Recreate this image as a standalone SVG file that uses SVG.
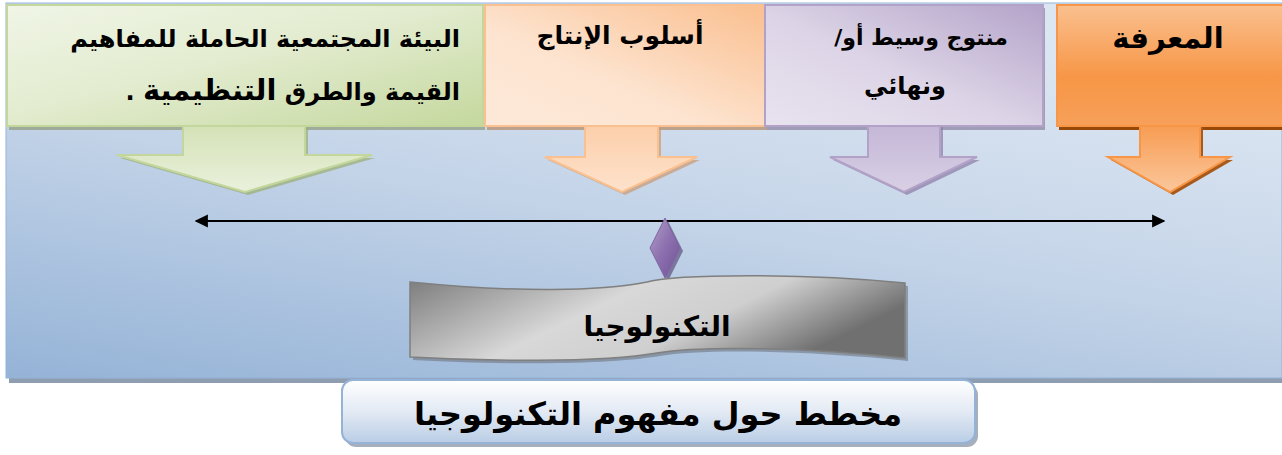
<svg xmlns="http://www.w3.org/2000/svg" width="1282" height="455" viewBox="0 0 1282 455">
<defs>
<linearGradient id="bg" x1="0" y1="1" x2="0.55" y2="0">
<stop offset="0" stop-color="#95b3d7"/>
<stop offset="0.55" stop-color="#c4d4e8"/>
<stop offset="1" stop-color="#dce6f2"/>
</linearGradient>
<linearGradient id="gGreen" x1="0" y1="0" x2="1" y2="1">
<stop offset="0" stop-color="#f0f5e6"/>
<stop offset="0.45" stop-color="#e3ecd0"/>
<stop offset="1" stop-color="#c5d89e"/>
</linearGradient>
<linearGradient id="gPeach" x1="1" y1="0" x2="0" y2="1">
<stop offset="0" stop-color="#fabf8f"/>
<stop offset="0.6" stop-color="#fde4d0"/>
<stop offset="1" stop-color="#fde9d9"/>
</linearGradient>
<linearGradient id="gPurple" x1="1" y1="0" x2="0" y2="1">
<stop offset="0" stop-color="#b4a3c9"/>
<stop offset="0.55" stop-color="#ddd5e7"/>
<stop offset="1" stop-color="#e8e3ef"/>
</linearGradient>
<linearGradient id="gOrange" x1="0" y1="0" x2="0" y2="1">
<stop offset="0" stop-color="#fac08f"/>
<stop offset="0.6" stop-color="#f79646"/>
<stop offset="1" stop-color="#f7a05a"/>
</linearGradient>
<linearGradient id="gGreenA" x1="0" y1="0" x2="0" y2="1">
<stop offset="0" stop-color="#d3e1b5"/>
<stop offset="1" stop-color="#eaf1dc"/>
</linearGradient>
<linearGradient id="gPeachA" x1="0" y1="0" x2="0" y2="1">
<stop offset="0" stop-color="#fccea8"/>
<stop offset="1" stop-color="#fde2cc"/>
</linearGradient>
<linearGradient id="gPurpleA" x1="0" y1="0" x2="0" y2="1">
<stop offset="0" stop-color="#c3b6d6"/>
<stop offset="1" stop-color="#d9d0e5"/>
</linearGradient>
<linearGradient id="gOrangeA" x1="0" y1="0" x2="0" y2="1">
<stop offset="0" stop-color="#f79a4f"/>
<stop offset="1" stop-color="#fbc79c"/>
</linearGradient>
<linearGradient id="gGray" x1="0" y1="0" x2="1" y2="0.35">
<stop offset="0" stop-color="#7a7a7a"/>
<stop offset="0.45" stop-color="#d8d8d8"/>
<stop offset="0.7" stop-color="#cfcfcf"/>
<stop offset="1" stop-color="#707070"/>
</linearGradient>
<linearGradient id="gDiamond" x1="0" y1="0" x2="1" y2="1">
<stop offset="0" stop-color="#b3a2c7"/>
<stop offset="0.5" stop-color="#8b6fae"/>
<stop offset="1" stop-color="#6d5293"/>
</linearGradient>
<linearGradient id="gTitle" x1="0" y1="0" x2="0" y2="1">
<stop offset="0" stop-color="#ffffff"/>
<stop offset="0.5" stop-color="#e3eaf4"/>
<stop offset="1" stop-color="#b9cde5"/>
</linearGradient>
<marker id="ah" viewBox="0 0 10 10" refX="9" refY="5" markerWidth="6" markerHeight="6" orient="auto-start-reverse" markerUnits="strokeWidth">
<path d="M0,0 L10,5 L0,10 Z" fill="#000"/>
</marker>
</defs>
<style>
text{font-family:"DejaVu Sans","Noto Sans",sans-serif;font-weight:bold;fill:#000;direction:rtl;}
.t24{font-size:24px;}
.t25{font-size:25px;}
</style>

<!-- background panel -->
<g id="panel">
<rect x="9" y="8" width="1273" height="375" fill="#8f9db0"/>
<rect x="6" y="3" width="1276" height="375" fill="url(#bg)" stroke="#95b3d7" stroke-width="1"/>
</g>

<!-- green node -->
<g id="node-environment">
<rect x="9" y="8" width="476" height="122" fill="#8f9a7a" opacity="0.7"/>
<path d="M186,125 L308,125 L308,158 L375,158 L248,195 L120,158 L186,158 Z" fill="#9aae73" opacity="0.7"/>
<path d="M183,122 L305,122 L305,155 L372,155 L245,192 L117,155 L183,155 Z" fill="url(#gGreenA)" stroke="#c3d69b" stroke-width="2"/>
<rect x="7" y="5" width="476" height="121" fill="url(#gGreen)" stroke="#c3d69b" stroke-width="2"/>
<text x="460" y="47" class="t24" text-anchor="start">البيئة المجتمعية الحاملة للمفاهيم</text>
<text x="460" y="100" class="t24" text-anchor="start">القيمة والطرق <tspan font-size="29px">التنظيمية</tspan> .</text>
</g>

<!-- peach node -->
<g id="node-production">
<rect x="487" y="8" width="280" height="122" fill="#b38a68" opacity="0.7"/>
<path d="M588,125 L661,125 L661,160 L700,160 L625,195 L548,160 L588,160 Z" fill="#c99a73" opacity="0.7"/>
<path d="M585,122 L658,122 L658,157 L697,157 L622,192 L545,157 L585,157 Z" fill="url(#gPeachA)" stroke="#fac090" stroke-width="2"/>
<rect x="485" y="5" width="280" height="121" fill="url(#gPeach)" stroke="#fac090" stroke-width="2"/>
<text x="620" y="44" class="t25" text-anchor="middle">أسلوب الإنتاج</text>
</g>

<!-- purple node -->
<g id="node-product">
<rect x="767" y="8" width="278" height="122" fill="#8a80a0" opacity="0.7"/>
<path d="M871,125 L943,125 L943,160 L980,160 L907,195 L833,160 L871,160 Z" fill="#8a7aa5" opacity="0.7"/>
<path d="M868,122 L940,122 L940,157 L977,157 L904,192 L830,157 L868,157 Z" fill="url(#gPurpleA)" stroke="#b3a2c7" stroke-width="2"/>
<rect x="765" y="5" width="278" height="121" fill="url(#gPurple)" stroke="#b3a2c7" stroke-width="2"/>
<text x="921" y="45" font-size="22px" text-anchor="middle">منتوج وسيط أو/</text>
<text x="905" y="94" class="t24" text-anchor="middle">ونهائي</text>
</g>

<!-- orange node -->
<g id="node-knowledge">
<rect x="1059" y="8" width="223" height="122" fill="#984807"/>
<path d="M1143,125 L1203,125 L1203,160 L1233,160 L1173,195 L1111,160 L1143,160 Z" fill="#a85a1c"/>
<path d="M1140,122 L1200,122 L1200,157 L1230,157 L1170,192 L1108,157 L1140,157 Z" fill="url(#gOrangeA)" stroke="#f79646" stroke-width="2"/>
<rect x="1057" y="5" width="226" height="121" fill="url(#gOrange)" stroke="#f79646" stroke-width="2"/>
<text x="1168" y="48" font-size="29px" text-anchor="middle">المعرفة</text>
</g>

<!-- connectors -->
<g id="connectors">
<line x1="196" y1="221" x2="1164" y2="221" stroke="#000" stroke-width="2.2" marker-start="url(#ah)" marker-end="url(#ah)"/>
<path d="M668,221 L683,251 L668,281 L653,251 Z" fill="#4f3a6b" opacity="0.6"/>
<path d="M665,218 L680,248 L665,278 L650,248 Z" fill="url(#gDiamond)" stroke="#8064a2" stroke-width="1"/>
</g>

<!-- technology node -->
<g id="node-technology">
<path d="M413,285 C520,296 600,294 650,285 C680,277 800,276 908,286 L908,361 C800,350 700,349 660,356 C600,366 480,364 413,360 Z" fill="#6f7780" opacity="0.6"/>
<path d="M410,282 C520,293 600,291 647,282 C677,274 800,273 905,283 L905,358 C800,347 700,346 657,353 C600,363 480,361 410,357 Z" fill="url(#gGray)" stroke="#7f7f7f" stroke-width="1.5"/>
<text x="657" y="336" font-size="28px" text-anchor="middle">التكنولوجيا</text>
</g>

<!-- title node -->
<g id="node-title">
<rect x="345" y="384" width="633" height="63" rx="11" fill="#8894a6" opacity="0.75"/>
<rect x="342" y="380" width="633" height="63" rx="11" fill="url(#gTitle)" stroke="#95b3d7" stroke-width="2"/>
<text x="658" y="425" font-size="32px" text-anchor="middle">مخطط حول مفهوم التكنولوجيا</text>
</g>
</svg>
